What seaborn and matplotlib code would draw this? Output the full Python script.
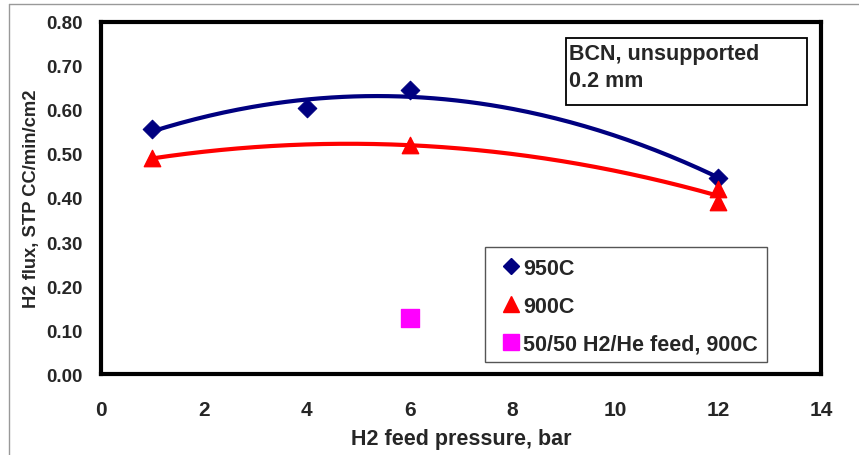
import numpy as np
import pandas as pd
import matplotlib
matplotlib.use("Agg")
import matplotlib.pyplot as plt
import seaborn as sns
from matplotlib.patches import Rectangle
from matplotlib.lines import Line2D

# data
p950 = [1, 4, 6, 12]
f950 = [0.557, 0.605, 0.645, 0.445]
p900 = [1, 6, 12, 12]
f900 = [0.490, 0.520, 0.420, 0.390]
pmix = [6]
fmix = [0.127]
xticks = [0, 2, 4, 6, 8, 10, 12, 14]
yticks = [0.0, 0.1, 0.2, 0.3, 0.4, 0.5, 0.6, 0.7, 0.8]

sns.set_theme(style="white")
plt.rcParams['font.family'] = ['Liberation Sans', 'DejaVu Sans']
plt.rcParams['font.weight'] = 'bold'

fig = plt.figure(figsize=(8.59, 4.56), dpi=100)
ax = fig.add_axes([0.1176, 0.1776, 0.9558 - 0.1176, 0.9496 - 0.1776])

# trendlines (2nd order polynomial fits)
c950 = np.polyfit(p950, f950, 2)
c900 = np.polyfit(p900, f900, 2)
xs = np.linspace(1, 12, 200)
blue = '#000080'
red = '#ff0000'
mag = '#ff00ff'
sns.lineplot(x=xs, y=np.polyval(c950, xs), color=blue, lw=3, ax=ax, zorder=2)
sns.lineplot(x=xs, y=np.polyval(c900, xs), color=red, lw=3, ax=ax, zorder=2)

sns.scatterplot(x=p950, y=f950, marker='D', s=90, color=blue, edgecolor=blue, ax=ax, zorder=3)
sns.scatterplot(x=p900, y=f900, marker='^', s=140, color=red, edgecolor=red, ax=ax, zorder=3)
sns.scatterplot(x=pmix, y=fmix, marker='s', s=150, color=mag, edgecolor=mag, ax=ax, zorder=3)

ax.set_xlim(0, 14)
ax.set_ylim(0, 0.8)
ax.set_xticks(xticks)
ax.set_xticklabels([str(t) for t in xticks])
ax.set_yticks(yticks)
ax.set_yticklabels([f"{t:.2f}" for t in yticks])
ax.tick_params(axis='both', direction='in', length=5, width=2.5, color='black')
ax.tick_params(axis='x', pad=19, labelsize=15)
ax.tick_params(axis='y', pad=13, labelsize=13.5)
for lab in ax.get_xticklabels() + ax.get_yticklabels():
    lab.set_fontweight('bold')
for s in ax.spines.values():
    s.set_linewidth(3)
    s.set_color('black')
    s.set_visible(True)

ax.set_xlabel("H2 feed pressure, bar", fontsize=15.5, fontweight='bold', labelpad=6)
ax.set_ylabel("H2 flux, STP CC/min/cm2", fontsize=13.2, fontweight='bold', labelpad=5)

# legend frame and entries
ax.add_patch(Rectangle((0.533, 0.034), 0.392, 0.327, transform=ax.transAxes,
                       fill=True, facecolor='white', edgecolor='#555555', lw=1, zorder=4))
handles = [
    Line2D([], [], ls='none', marker='D', color=blue, markersize=8),
    Line2D([], [], ls='none', marker='^', color=red, markersize=11),
    Line2D([], [], ls='none', marker='s', color=mag, markersize=11),
]
leg = ax.legend(handles, ["950C", "900C", "50/50 H2/He feed, 900C"],
                loc='lower left', bbox_to_anchor=(0.546, 0.028, 0.38, 0.327),
                frameon=False, fontsize=15.5,
                labelspacing=0.78, handlelength=0.7, handletextpad=0.2,
                borderpad=0.45, borderaxespad=0)
leg.set_zorder(6)
for t in leg.get_texts():
    t.set_fontweight('bold')

# text box
ax.add_patch(Rectangle((0.646, 0.764), 0.335, 0.190, transform=ax.transAxes,
                       fill=True, facecolor='white', edgecolor='black', lw=1.3, zorder=5))
ax.text(0.650, 0.94, "BCN, unsupported\n0.2 mm", transform=ax.transAxes,
        ha='left', va='top', fontsize=15.5, fontweight='bold', linespacing=1.35, zorder=6)

# chart area border
fig.add_artist(Line2D([9/859, 9/859], [0, 1 - 5/456], transform=fig.transFigure, color='#999999', lw=1))
fig.add_artist(Line2D([9/859, 1], [1 - 5/456, 1 - 5/456], transform=fig.transFigure, color='#999999', lw=1))

fig.savefig("out.png", dpi=100)
